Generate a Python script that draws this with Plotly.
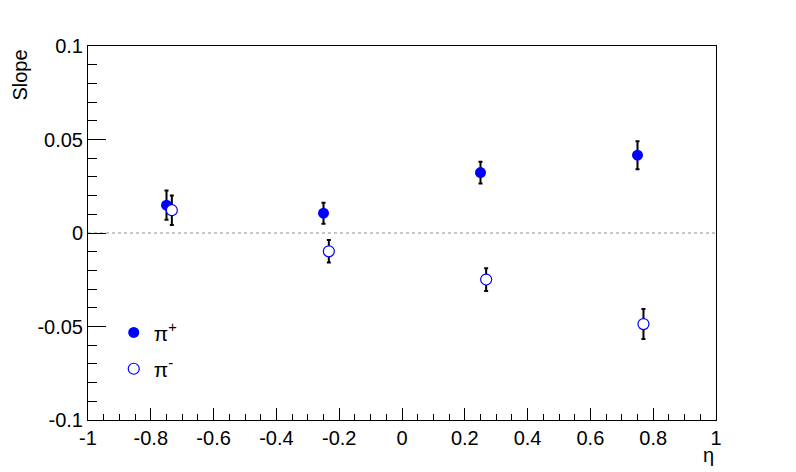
import plotly.graph_objects as go

# data
eta_pip = [-0.75, -0.25, 0.25, 0.75]
slope_pip = [0.0149, 0.0106, 0.0323, 0.0416]
err_pip = [0.0078, 0.0056, 0.0058, 0.0075]

eta_pim = [-0.733, -0.233, 0.268, 0.769]
slope_pim = [0.0122, -0.0098, -0.0249, -0.0487]
err_pim = [0.0079, 0.0060, 0.0061, 0.0080]

xtick_vals = [-1, -0.8, -0.6, -0.4, -0.2, 0, 0.2, 0.4, 0.6, 0.8, 1]
xtick_text = ["-1", "-0.8", "-0.6", "-0.4", "-0.2", "0", "0.2", "0.4", "0.6", "0.8", "1"]
ytick_vals = [-0.1, -0.05, 0, 0.05, 0.1]
ytick_text = ["-0.1", "-0.05", "0", "0.05", "0.1"]

BLUE = "#0000ff"
FONT = "Liberation Sans"

fig = go.Figure()
fig.add_trace(go.Scatter(
    x=eta_pip, y=slope_pip, mode="markers", name="π<sup>+</sup>", legendgroup="a",
    marker=dict(symbol="circle", size=11, color=BLUE, line=dict(width=0)),
    error_y=dict(type="data", array=err_pip, color="black", thickness=2, width=2),
))
fig.add_trace(go.Scatter(
    x=eta_pim, y=slope_pim, mode="markers", name="π<sup>-</sup>", legendgroup="b",
    marker=dict(symbol="circle", size=11, color="white", line=dict(width=1.2, color=BLUE)),
    error_y=dict(type="data", array=err_pim, color="black", thickness=2, width=2),
))

fig.add_shape(type="line", xref="x", yref="y", x0=-1, x1=1, y0=0, y1=0,
              line=dict(color="#b4b4b4", width=1.5, dash="dot"), layer="below")

fig.update_layout(
    width=796, height=472,
    margin=dict(l=80, r=88, t=38, b=60),
    paper_bgcolor="white", plot_bgcolor="white",
    font=dict(family=FONT, size=20, color="black"),
    showlegend=True,
    legend=dict(x=0.041, y=0.288, xanchor="left", yanchor="top",
                bgcolor="rgba(0,0,0,0)", font=dict(family=FONT, size=21),
                itemwidth=30, tracegroupgap=6),
    xaxis=dict(range=[-1, 1], showline=True, linecolor="black", linewidth=1, mirror=True,
               ticks="inside", ticklen=12, tickcolor="black", tickwidth=1,
               tickvals=xtick_vals, ticktext=xtick_text, showgrid=False, zeroline=False,
               tickfont=dict(size=20),
               minor=dict(ticks="inside", dtick=0.05, tick0=0, ticklen=6, tickcolor="black", tickwidth=1, showgrid=False)),
    yaxis=dict(range=[-0.1, 0.1], showline=True, linecolor="black", linewidth=1, mirror=True,
               ticks="inside", ticklen=18, tickcolor="black", tickwidth=1,
               tickvals=ytick_vals, ticktext=ytick_text, showgrid=False, zeroline=False,
               tickfont=dict(size=20),
               minor=dict(ticks="inside", dtick=0.01, tick0=0, ticklen=9, tickcolor="black", tickwidth=1, showgrid=False)),
    annotations=[
        dict(text="Slope", xref="paper", yref="paper", x=-0.108, y=0.995, xanchor="center", yanchor="top",
             textangle=-90, showarrow=False, font=dict(family=FONT, size=20)),
        dict(text="η", xref="paper", yref="paper", x=1.0, y=-0.094, xanchor="right", yanchor="middle",
             showarrow=False, font=dict(family=FONT, size=20)),
    ],
)

fig.write_html("out.html")
